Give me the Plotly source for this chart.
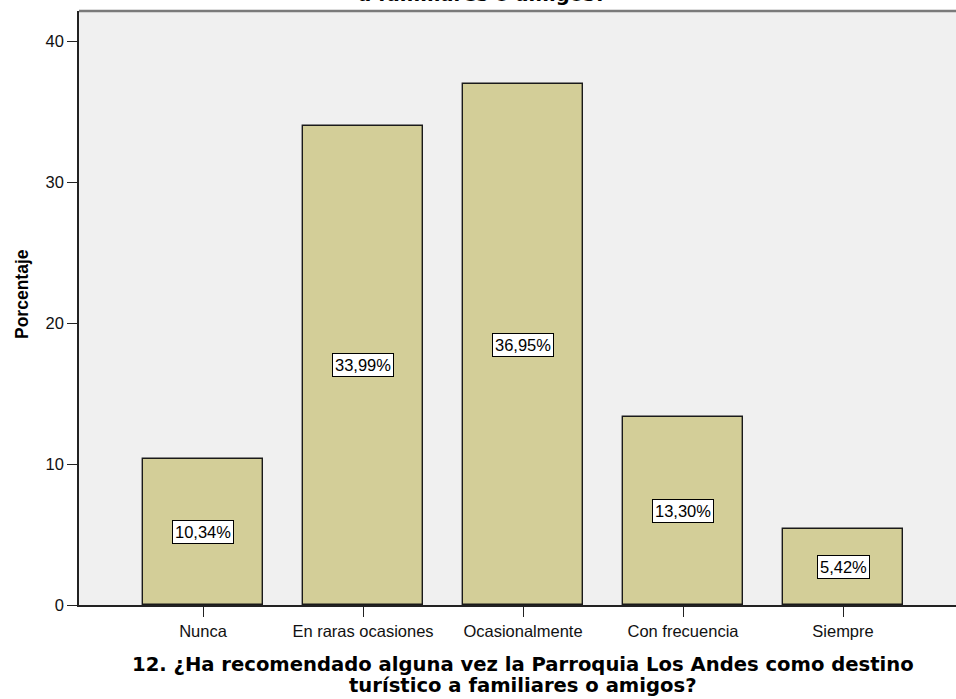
import plotly.graph_objects as go

categories = ["Nunca", "En raras ocasiones", "Ocasionalmente", "Con frecuencia", "Siempre"]
values = [10.34, 33.99, 36.95, 13.30, 5.42]
value_labels = ["10,34%", "33,99%", "36,95%", "13,30%", "5,42%"]
y_ticks = [0, 10, 20, 30, 40]

W, H = 956, 699
L, R, T, B = 79, 0, 11, 94
PLOT_BOTTOM = H - B          # 605
PLOT_H = H - T - B           # 594
x = list(range(len(categories)))


def py(pix):
    """pixel row -> paper y"""
    return (PLOT_BOTTOM - pix) / PLOT_H


fig = go.Figure()
fig.add_trace(go.Bar(
    x=x, y=values, width=0.745,
    marker=dict(color="#D3CE98", line=dict(color="#1a1a1a", width=1.4)),
    hoverinfo="skip",
))

for xi, v, lab in zip(x, values, value_labels):
    fig.add_annotation(
        x=xi, y=v / 2, xref="x", yref="y", text=lab, showarrow=False,
        font=dict(family="Liberation Sans, Arial", size=16.5, color="black"),
        bgcolor="white", bordercolor="black", borderwidth=1, borderpad=2,
    )

title_font = dict(family="DejaVu Sans, Liberation Sans", size=19.6, color="black", weight="bold")

# top (cut off) title fragment
fig.add_annotation(
    x=(482 - L) / (W - L - R), y=py(-5.5), xref="paper", yref="paper",
    xanchor="center", yanchor="middle",
    text="a familiares o amigos?", showarrow=False, font=title_font,
)

# x axis title (two lines)
fig.add_annotation(
    x=2, y=py(664), xref="x", yref="paper", xanchor="center", yanchor="middle",
    text="12. ¿Ha recomendado alguna vez la Parroquia Los Andes como destino",
    showarrow=False, font=title_font,
)
fig.add_annotation(
    x=2, y=py(685), xref="x", yref="paper", xanchor="center", yanchor="middle",
    text="turístico a familiares o amigos?",
    showarrow=False, font=title_font,
)

# y axis title
fig.add_annotation(
    x=-(L - 22) / (W - L - R), y=py(294), xref="paper", yref="paper",
    xanchor="center", yanchor="middle", textangle=-90,
    text="Porcentaje", showarrow=False,
    font=dict(family="Liberation Sans, Arial", size=17.5, color="black", weight="bold"),
)

px_per = 160.0
tick_font = dict(family="Liberation Sans, Arial", size=16.5, color="#111")
fig.update_layout(
    width=W, height=H,
    margin=dict(l=L, r=R, t=T, b=B, pad=0),
    paper_bgcolor="white", plot_bgcolor="#F0F0F0",
    showlegend=False, bargap=0,
    xaxis=dict(
        range=[-(203 - L) / px_per, (W - 203) / px_per],
        tickmode="array", tickvals=x, ticktext=categories,
        ticks="outside", ticklen=10, tickwidth=1.4, tickcolor="#222",
        showline=True, linecolor="#222", linewidth=1.5,
        showgrid=False, zeroline=False, tickfont=tick_font,
        fixedrange=True,
    ),
    yaxis=dict(
        range=[0, PLOT_H / 14.1],
        tickmode="array", tickvals=y_ticks, ticktext=[str(t) for t in y_ticks],
        ticks="outside", ticklen=10, tickwidth=1.4, tickcolor="#222",
        showline=True, linecolor="#222", linewidth=1.5,
        showgrid=False, zeroline=False, tickfont=tick_font,
        fixedrange=True,
    ),
    shapes=[dict(type="line", xref="paper", yref="paper", x0=0, x1=1, y0=1, y1=1,
                 line=dict(color="#7a7a7a", width=2.5))],
)

fig.write_html("out.html", config={"displayModeBar": False},
               post_script="document.body.style.margin='0';")
